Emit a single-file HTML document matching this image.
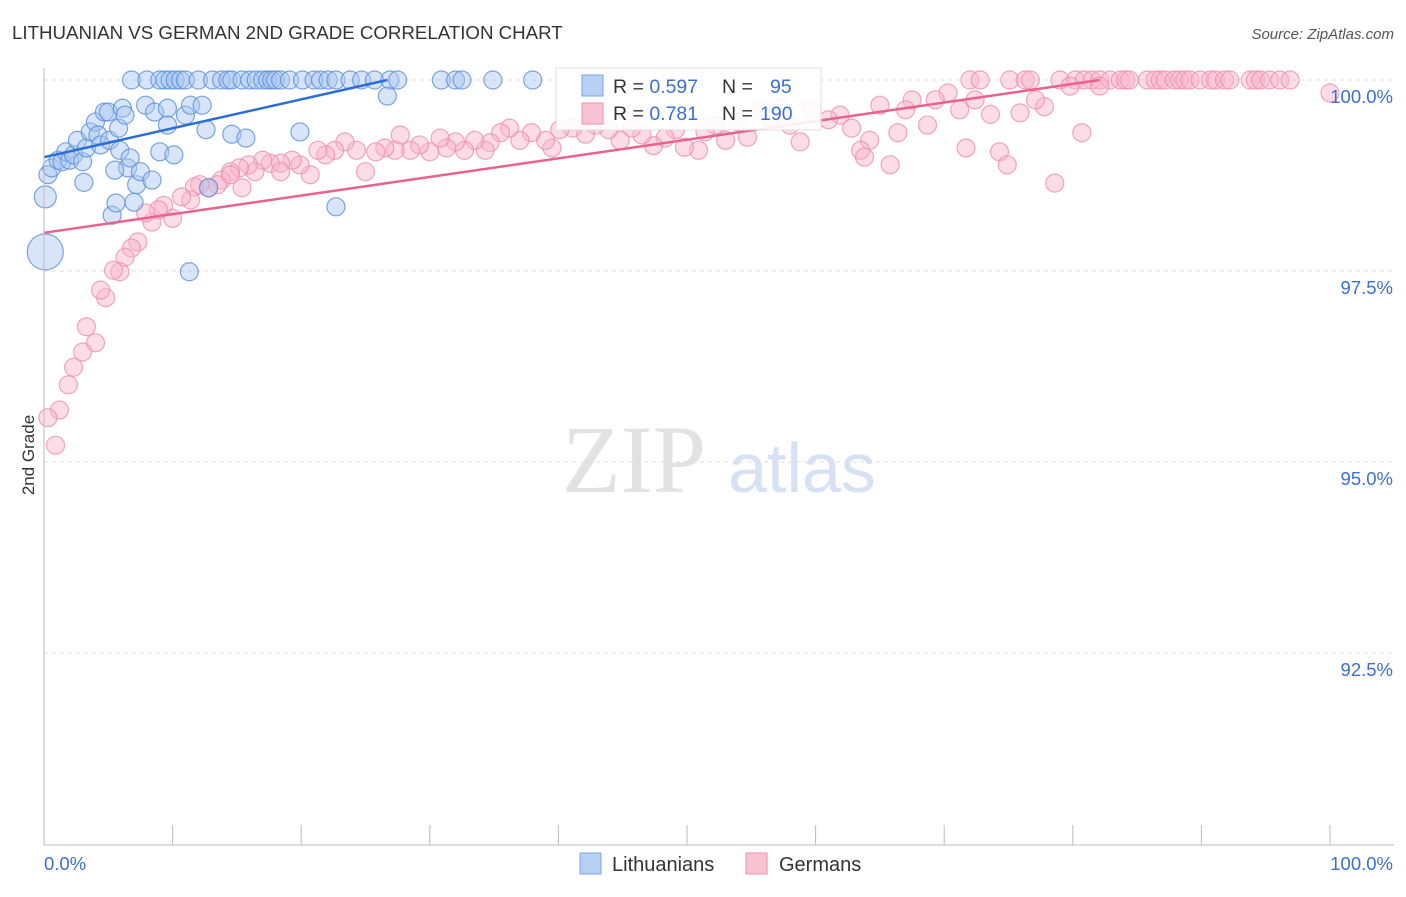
<!DOCTYPE html>
<html><head><meta charset="utf-8"><style>
body{margin:0;background:#fff;font-family:"Liberation Sans",sans-serif}
svg text{font-family:"Liberation Sans",sans-serif}
</style></head><body>
<svg id="c" width="1406" height="892">
<text x="12" y="39" font-size="18.7" fill="#333">LITHUANIAN VS GERMAN 2ND GRADE CORRELATION CHART</text>
<text x="1394" y="39" font-size="15" fill="#555" font-style="italic" text-anchor="end">Source: ZipAtlas.com</text>
<text x="634" y="492" font-size="96" fill="#e2e2e2" text-anchor="middle" style="font-family:'Liberation Serif',serif">ZIP</text>
<text x="802" y="492" font-size="70" fill="#d6e2f3" text-anchor="middle">atlas</text>
<text transform="translate(34,455) rotate(-90)" font-size="17" fill="#333" text-anchor="middle">2nd Grade</text>
<g id="grid"></g><g id="marks"></g><g id="axes"></g>
<g>
<rect x="556" y="68" width="265" height="62" fill="#fff" stroke="#ddd" opacity="0.9"/>
<rect x="582" y="75" width="21" height="21" fill="#b8d0f3" stroke="#7aa6e6"/>
<rect x="582" y="103" width="21" height="21" fill="#f8c3d3" stroke="#ef8fb0"/>
<text x="613" y="93" font-size="19.5" fill="#333">R = <tspan fill="#3b6fd4">0.597</tspan><tspan x="722">N = </tspan><tspan x="770" fill="#3b6fd4">95</tspan></text>
<text x="613" y="120" font-size="19.5" fill="#333">R = <tspan fill="#3b6fd4"> 0.781</tspan><tspan x="722">N = </tspan><tspan x="760" fill="#3b6fd4">190</tspan></text>
</g>
<g>
<rect x="580" y="853" width="21" height="21" fill="#b8d0f3" stroke="#7aa6e6"/>
<text x="612" y="871" font-size="20" fill="#333">Lithuanians</text>
<rect x="746" y="853" width="21" height="21" fill="#f8c3d3" stroke="#ef8fb0"/>
<text x="779" y="871" font-size="20" fill="#333">Germans</text>
</g>
</svg>
<script>
const yTicks=[100,97.5,95,92.5];
const yTickLabels=["100.0%","97.5%","95.0%","92.5%"];
const xTicks=[0,10,20,30,40,50,60,70,80,90,100];
const blueX=[6.8,8.0,9.0,9.4,9.8,10.2,10.6,11.0,12.0,13.1,13.8,14.3,14.6,15.4,16.0,16.5,17.0,17.4,17.7,18.0,18.4,19.1,20.1,21.0,21.5,22.1,22.7,23.8,24.7,25.7,26.9,27.5,30.9,32.0,32.5,34.9,38.0,
26.7,0.3,0.6,1.1,1.4,1.7,2.0,2.3,2.6,3.0,3.1,3.3,3.6,4.0,4.2,4.4,4.7,5.0,5.1,5.8,5.9,6.1,6.3,6.5,6.7,7.2,7.5,7.9,8.4,8.6,9.0,9.6,9.6,10.1,11.0,11.4,12.3,12.6,12.8,14.6,15.7,19.9,22.7,11.3,5.3,5.6,7.0,5.5];
const blueY=[100,100,100,100,100,100,100,100,100,100,100,100,100,100,100,100,100,100,100,100,100,100,100,100,100,100,100,100,100,100,100,100,100,100,100,100,100,
99.79,98.76,98.85,98.95,98.93,99.06,98.95,99.02,99.21,98.93,98.66,99.11,99.32,99.45,99.28,99.15,99.58,99.58,99.21,99.37,99.08,99.63,99.54,98.85,98.98,98.63,98.80,99.67,98.69,99.58,99.06,99.63,99.41,99.02,99.54,99.67,99.67,99.35,98.59,99.29,99.24,99.32,98.34,97.49,98.23,98.39,98.40,98.82];
const blueBigX=[0.1,0.1];
const blueBigY=[98.47,97.75];
const pinkX=[72.0,72.8,75.1,76.3,76.7,79.0,80.2,80.9,81.5,82.1,82.9,83.7,84.1,84.4,85.8,86.4,86.8,87.2,87.9,88.3,88.7,89.1,89.9,90.7,91.1,91.8,92.2,93.8,94.2,94.6,95.3,96.1,96.9,
100.0,82.1,79.8,78.6,80.7,74.3,74.9,71.7,77.8,77.1,75.9,73.6,72.4,71.2,70.3,69.3,68.7,67.5,67.0,66.4,65.8,65.0,64.2,63.5,63.8,62.8,61.9,61.0,59.7,58.8,58.0,57.2,56.5,55.7,54.7,54.0,53.0,52.2,51.4,50.9,49.8,49.1,48.3,47.4,46.5,45.7,44.8,43.9,42.9,42.1,41.1,40.1,39.5,39.0,37.9,37.0,36.2,35.5,34.7,34.3,33.5,32.7,32.0,31.3,30.8,30.0,29.2,28.5,27.7,27.3,26.5,25.8,25.0,24.3,23.4,22.6,21.9,21.3,20.7,19.9,19.3,18.4,17.6,17.0,16.4,15.9,15.2,14.5,13.8,13.5,12.8,12.1,11.7,11.4,10.7,10.0,9.3,8.9,8.4,7.9,7.3,6.8,6.3,5.9,5.4,4.8,4.4,4.0,3.3,3.0,2.3,1.9,1.2,0.3,0.9,15.4,18.4,14.5];
const pinkY=[100,100,100,100,100,100,100,100,100,100,100,100,100,100,100,100,100,100,100,100,100,100,100,100,100,100,100,100,100,100,100,100,100,
99.83,99.92,99.92,98.65,99.31,99.06,98.89,99.11,99.65,99.74,99.57,99.55,99.74,99.61,99.83,99.74,99.41,99.74,99.61,99.31,98.89,99.67,99.21,99.08,98.99,99.37,99.54,99.48,99.61,99.19,99.41,99.63,99.48,99.61,99.25,99.45,99.21,99.41,99.32,99.08,99.12,99.35,99.24,99.14,99.28,99.37,99.21,99.35,99.41,99.29,99.37,99.35,99.11,99.21,99.31,99.21,99.37,99.31,99.18,99.08,99.21,99.08,99.19,99.11,99.24,99.06,99.15,99.08,99.28,99.08,99.11,99.06,98.80,99.08,99.19,99.08,99.02,99.08,98.76,98.89,98.95,98.91,98.91,98.95,98.80,98.89,98.85,98.80,98.69,98.63,98.59,98.63,98.60,98.43,98.47,98.19,98.36,98.30,98.14,98.26,97.88,97.80,97.68,97.49,97.51,97.15,97.25,96.56,96.77,96.44,96.24,96.01,95.68,95.58,95.22,98.59,98.80,98.76];
const blueLine=[0,98.99,26.7,100];
const pinkLine=[0,98.0,82.1,100];
const X=v=>44+v*12.86, Y=v=>80+(100-v)*76.4;
const NS="http://www.w3.org/2000/svg";
function mk(t,a,p){const e=document.createElementNS(NS,t);for(const k in a)e.setAttribute(k,a[k]);p.appendChild(e);return e;}
const grid=document.getElementById('grid'),marks=document.getElementById('marks'),axes=document.getElementById('axes');
yTicks.forEach((t,i)=>{
 const l=mk('line',{x1:44,x2:1394,y1:Y(t),y2:Y(t),stroke:'#ddd','stroke-dasharray':'4,4'},grid);
 
 
 const tx=mk('text',{x:1393,y:Y(t)+23,'font-size':18.5,fill:'#3b6fd4','text-anchor':'end'},axes);
 tx.textContent=yTickLabels[i];
 
 
});
mk('line',{x1:44,x2:44,y1:68,y2:845,stroke:'#bbb'},axes);
mk('line',{x1:44,x2:1394,y1:845,y2:845,stroke:'#bbb'},axes);
xTicks.forEach(t=>{const l=mk('line',{x1:X(t),x2:X(t),y1:825,y2:845,stroke:'#bbb'},axes);
 
 });
let a=mk('text',{x:44,y:870,'font-size':18.5,fill:'#3b6fd4'},axes);a.textContent='0.0%';


a=mk('text',{x:1393,y:870,'font-size':18.5,fill:'#3b6fd4','text-anchor':'end'},axes);a.textContent='100.0%';


function dots(xs,ys,r,fill,stroke,name){xs.forEach((v,i)=>{const c=mk('circle',{cx:X(v),cy:Y(ys[i]),r:r,fill:fill,'fill-opacity':0.45,stroke:stroke,'stroke-width':1.2,'stroke-opacity':0.8},marks);
 
 });}
dots(pinkX,pinkY,9,'#f8b4c8','#ef8fb0','german-point');
dots(blueX,blueY,9,'#a9c6f0','#5b8fdc','lithuanian-point');
dots(blueBigX,blueBigY,11,'#a9c6f0','#5b8fdc','lithuanian-point');
marks.lastChild.setAttribute('r',18);
let ln=mk('line',{x1:X(blueLine[0]),y1:Y(blueLine[1]),x2:X(blueLine[2]),y2:Y(blueLine[3]),stroke:'#2a6dd6','stroke-width':2.5},marks);


ln=mk('line',{x1:X(pinkLine[0]),y1:Y(pinkLine[1]),x2:X(pinkLine[2]),y2:Y(pinkLine[3]),stroke:'#e8628f','stroke-width':2.5},marks);


</script>
</body></html>
